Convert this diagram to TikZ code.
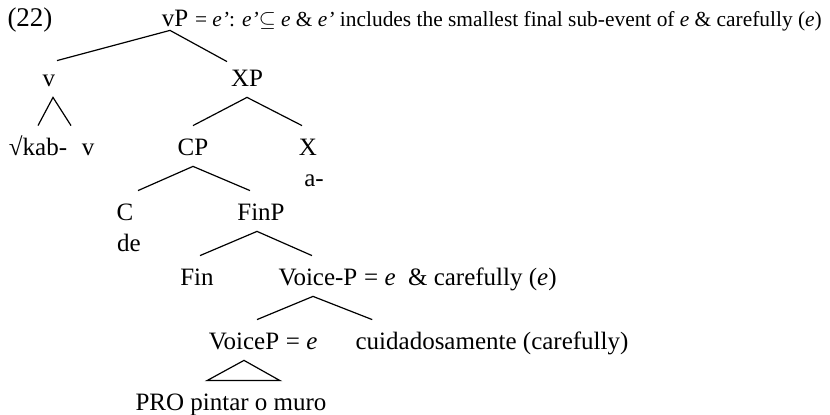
\documentclass[tikz,border=0pt]{standalone}
\usepackage{fontspec}
\setmainfont{Liberation Serif}
\begin{document}
\begin{tikzpicture}[
            x=0.5pt, y=-0.5pt,
            cat/.style={anchor=base, inner xsep=0pt, inner ysep=2pt, text height=13pt, text depth=3pt, font=\fontsize{12.5}{15}\selectfont},
            gloss/.style={anchor=base west, inner sep=0pt, font=\fontsize{12.5}{15}\selectfont},
            branch/.style={line width=0.6pt}
                           ]
            \useasboundingbox (0,0) rectangle (830,415);

            % 1. Example number and the root with its meaning
            \node[cat, font=\fontsize{13.5}{16}\selectfont] (exnum) at (30,27) {(22)};
            \node[cat] (vP) at (175,27) {vP};
            \node[gloss, font=\fontsize{10.7}{13}\selectfont] (vP_sem) at ([xshift=3pt]vP.base east) {= \textit{e’}: \textit{e’}$\subseteq$ \textit{e} \& \textit{e’} includes the smallest final sub-event of \textit{e} \& carefully (\textit{e})};

            % 2. Categories, level by level
            \node[cat] (v) at (49,87) {v};
            \node[cat] (XP) at (247,87) {XP};

            \node[cat] (root) at (38,156) {√kab-};
            \node[cat] (v_head) at (88,156) {v};
            \node[cat] (CP) at (193,156) {CP};
            \node[cat] (X) at (308,156) {X};
            \node[cat] (X_lex) at (314,187) {a-};

            \node[cat] (C) at (125,221) {C};
            \node[cat] (C_lex) at (129,252) {de};
            \node[cat] (FinP) at (261,221) {FinP};

            \node[cat] (Fin) at (197,286) {Fin};
            \node[cat] (VoiceBar) at (318,286) {Voice-P};
            \node[gloss] (VoiceBar_sem) at ([xshift=3pt]VoiceBar.base east) {= \textit{e}\ \ \& carefully (\textit{e})};

            \node[cat] (VoiceP) at (244,350) {VoiceP};
            \node[gloss] (VoiceP_sem) at ([xshift=3pt]VoiceP.base east) {= \textit{e}};
            \node[cat] (Adv) at (492,350) {cuidadosamente (carefully)};

            \node[cat] (PRO) at (231,411) {PRO pintar o muro};

            % 3. Branches from each mother to its daughters
            \draw[branch] ([xshift=4pt,yshift=-2pt]v.north) -- ([xshift=-2.5pt,yshift=3.5pt]vP.south) -- ([xshift=-10pt,yshift=-2.5pt]XP.north);
            \draw[branch] (root.north) -- ([xshift=2pt]v.south) -- ([xshift=-8.5pt]v_head.north);
            \draw[branch] (CP.north) -- (XP.south) -- ([xshift=-3pt]X.north);
            \draw[branch] ([xshift=6.5pt]C.north) -- (CP.south) -- ([xshift=-5.5pt]FinP.north);
            \draw[branch] ([xshift=1.5pt]Fin.north) -- ([xshift=-2pt]FinP.south) -- ([xshift=-3pt]VoiceBar.north);
            \draw[branch] ([xshift=6.5pt]VoiceP.north) -- ([xshift=-2.5pt]VoiceBar.south) -- ([xshift=8.5pt]Adv.north west);

            % 4. Triangle over the unanalysed VoiceP
            \draw[branch] (VoiceP.south) -- ([xshift=-12pt]PRO.north) -- ([xshift=24.5pt]PRO.north) -- cycle;

        \end{tikzpicture}
\end{document}
